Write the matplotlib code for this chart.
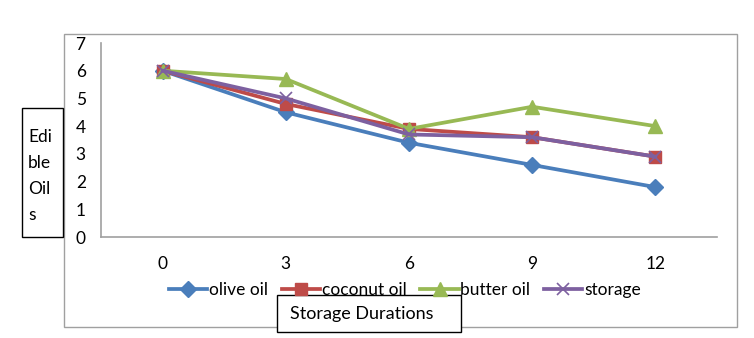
import matplotlib
matplotlib.use("Agg")
import matplotlib.pyplot as plt
from matplotlib.patches import Rectangle

categories = ["0", "3", "6", "9", "12"]
olive_oil = [6.0, 4.5, 3.4, 2.6, 1.8]
coconut_oil = [6.0, 4.8, 3.9, 3.6, 2.9]
butter_oil = [6.0, 5.7, 3.9, 4.7, 4.0]
storage = [6.0, 5.0, 3.7, 3.6, 2.9]
y_ticks = [0, 1, 2, 3, 4, 5, 6, 7]

plt.rcParams['font.family'] = ['Lato', 'DejaVu Sans']

W, H = 754, 338
fig = plt.figure(figsize=(W / 100, H / 100), dpi=100)

def fx(px):
    return px / W

def fy(py):
    return 1 - py / H

# outer chart frame
fig.patches.append(Rectangle((fx(64), fy(327)), fx(737) - fx(64), fy(34) - fy(327),
                             transform=fig.transFigure, fill=False, edgecolor='#a0a0a0', lw=1.0, zorder=0))

ax = fig.add_axes([fx(101), fy(237), fx(717) - fx(101), fy(43) - fy(237)])
x = list(range(len(categories)))
series = [
    ("olive oil", olive_oil, '#4A7EBB', 'D', 8.5),
    ("coconut oil", coconut_oil, '#BE4B48', 's', 9),
    ("butter oil", butter_oil, '#98B954', '^', 9.5),
    ("storage", storage, '#7D60A0', 'x', 8.5),
]
handles = []
for name, vals, col, mk, ms in series:
    if mk == 'x':
        h, = ax.plot(x, vals, color=col, lw=2.7, marker=mk, markersize=ms,
                     markeredgewidth=1.2, label=name)
    else:
        h, = ax.plot(x, vals, color=col, lw=2.7, marker=mk, markersize=ms,
                     markeredgecolor=col, label=name)
    handles.append(h)

ax.set_xlim(-0.5, 4.5)
ax.set_ylim(0, 7)
ax.set_xticks(x)
ax.set_xticklabels(categories)
ax.set_yticks(y_ticks)
ax.tick_params(axis='both', length=0, labelsize=12.5, colors='black')
ax.tick_params(axis='x', pad=14)
ax.tick_params(axis='y', pad=11)
for s in ['top', 'right']:
    ax.spines[s].set_visible(False)
for s in ['left', 'bottom']:
    ax.spines[s].set_color('#a0a0a0')
    ax.spines[s].set_linewidth(1.2)

leg = fig.legend(handles=handles, loc='center', bbox_to_anchor=(fx(405), fy(290)),
                 ncol=4, frameon=False, fontsize=12.5, handlelength=2.2,
                 handletextpad=0.1, columnspacing=0.8, borderaxespad=0)

# y-axis title box
fig.patches.append(Rectangle((fx(22), fy(237)), fx(63) - fx(22), fy(108) - fy(237),
                             transform=fig.transFigure, fill=True, facecolor='white',
                             edgecolor='black', lw=1.0, zorder=3))
fig.text(fx(28), fy(176), "Edi\nble\nOil\ns", ha='left', va='center', fontsize=12.5,
         linespacing=1.75, zorder=4)

# x-axis title box
fig.patches.append(Rectangle((fx(277), fy(332)), fx(461) - fx(277), fy(295) - fy(332),
                             transform=fig.transFigure, fill=True, facecolor='white',
                             edgecolor='black', lw=1.0, zorder=3))
fig.text(fx(290), fy(314), "Storage Durations", ha='left', va='center', fontsize=13, zorder=4)

fig.savefig("out.png", dpi=100)
